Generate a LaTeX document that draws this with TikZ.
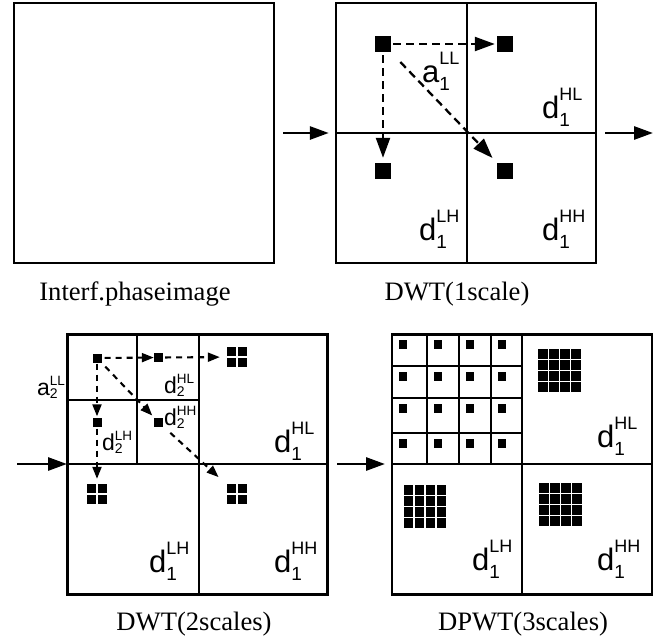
\documentclass[tikz,border=0pt]{standalone}
\usepackage{fontspec}
\setmainfont{Liberation Serif}
\newfontfamily\labfont{Liberation Sans}
\usetikzlibrary{arrows.meta}
\newcommand{\biglab}[3]{{\labfont\fontsize{31}{31}\selectfont #1\makebox[0pt][l]{\raisebox{-8pt}{\fontsize{19}{19}\selectfont #2}}\raisebox{18pt}{\fontsize{18}{18}\selectfont #3}}}
\newcommand{\smlab}[3]{{\labfont\fontsize{23}{23}\selectfont #1\makebox[0pt][l]{\raisebox{-3pt}{\fontsize{14}{14}\selectfont #2}}\raisebox{10pt}{\fontsize{13.5}{13.5}\selectfont #3}}}
\tikzset{
  panel/.style={draw, line width=2.4pt, minimum width=260pt, minimum height=260pt, inner sep=0},
  sepline/.style={line width=2.4pt},
  blk/.style={fill=black, draw=none, inner sep=0, minimum size=16pt},
  sblk/.style={fill=black, draw=none, inner sep=0, minimum size=9pt},
  quadgrid/.style={inner sep=0, minimum size=20pt, path picture={
      \foreach \i in {0,1}{\foreach \j in {0,1}{
        \fill ([shift={(\i*11,\j*11)}]path picture bounding box.north west) rectangle ++(9,9);}}}},
  bigquad/.style={inner sep=0, minimum size=43pt, path picture={
      \foreach \i in {0,...,3}{\foreach \j in {0,...,3}{
        \fill ([shift={(\i*11.15,\j*11.15)}]path picture bounding box.north west) rectangle ++(9.5,9.5);}}}},
  flow/.style={line width=2.8pt, -{Triangle[length=19pt,width=13pt]}},
  dflow/.style={line width=2.3pt, dash pattern=on 8pt off 5pt, -{Triangle[length=20pt,width=14pt]}},
  sdflow/.style={line width=2.1pt, dash pattern=on 6pt off 5pt, -{Triangle[length=12pt,width=9pt]}},
  lab/.style={anchor=base west, inner sep=0},
  captxt/.style={anchor=base, inner sep=0, font=\fontsize{26.6}{26.6}\selectfont}
}
\begin{document}
\begin{tikzpicture}[x=1pt,y=-1pt]
\useasboundingbox (0,0) rectangle (664,643);
% panels
\node[panel] (p1) at (144,133) {};
\node[panel] (p2) at (466,133) {};
\node[panel] (p3) at (197.5,464.5) {};
\node[panel] (p4) at (522,464.5) {};
% panel 2 quadrants
\draw[sepline] (467,3) -- (467,263);
\draw[sepline] (336,133) -- (596,133);
% panel 3 lines
\draw[sepline] (199,334) -- (199,595);
\draw[sepline] (68,464) -- (327,464);
\draw[sepline] (137,334) -- (137,464);
\draw[sepline] (68,400) -- (199,400);
% panel 4 lines
\draw[sepline] (522,334) -- (522,595);
\draw[sepline] (392,464) -- (652,464);
\foreach \x in {427,459,491} \draw[sepline] (\x,334) -- (\x,464);
\foreach \y in {366,398,433} \draw[sepline] (392,\y) -- (522,\y);
\foreach \x in {392,427,459,491}{\foreach \y in {334,366,398,433}{
  \fill (\x+6.5,\y+6) rectangle ++(8.5,8.5);}}
\node[bigquad] (r_hl) at (559.5,370.5) {};
\node[bigquad] (r_lh) at (425,506.5) {};
\node[bigquad] (r_hh) at (560.5,504.5) {};
% main arrows
\coordinate (e2) at (653,133);
\coordinate (s3) at (17,464);
\coordinate (s4) at (337,464);
\draw[flow] ([xshift=8pt]p1.east) -- ([xshift=-6pt]p2.west);
\draw[flow] ([xshift=8pt]p2.east) -- (e2);
\draw[flow] (s3) -- (67,464);
\draw[flow] (s4) -- (385,464);
% panel 2 content
\node[blk] (a1) at (383,44) {};
\node[blk] (h1) at (505,44) {};
\node[blk] (v1) at (383,171) {};
\node[blk] (g1) at (505,171) {};
\draw[dflow, shorten <=2pt, shorten >=2pt] (a1) -- (h1);
\draw[dflow, shorten <=3pt, shorten >=5pt] (a1) -- (v1);
\draw[dflow, shorten <=25pt, shorten >=18pt] (a1.center) -- (g1.center);
\node[lab] at (422,82) {\biglab{a}{1}{LL}};
\node[lab] at (542,118) {\biglab{d}{1}{HL}};
\node[lab] at (419,240) {\biglab{d}{1}{LH}};
\node[lab] at (542,240) {\biglab{d}{1}{HH}};
% panel 3 content
\node[sblk] (b_a) at (97,358) {};
\node[sblk] (b_hl) at (158.5,357.5) {};
\node[sblk] (b_lh) at (97,422) {};
\node[sblk] (b_hh) at (158.5,422) {};
\node[quadgrid] (bg_hl) at (237,357) {};
\node[quadgrid] (bg_lh) at (97,494) {};
\node[quadgrid] (bg_hh) at (237,494) {};
\draw[sdflow, shorten <=3pt] (b_a) -- (b_hl);
\draw[sdflow, shorten <=2pt, shorten >=7pt] (b_hl) -- (bg_hl);
\draw[sdflow, shorten <=1pt, shorten >=1pt] (b_a) -- (b_lh);
\draw[sdflow, shorten <=2pt, shorten >=5pt] (b_lh) -- (bg_lh);
\draw[sdflow, shorten <=12pt, shorten >=9pt] (b_a.center) -- (b_hh.center);
\draw[sdflow, shorten <=16pt, shorten >=25pt] (b_hh.center) -- (bg_hh.center);
\node[lab] at (37,395) {\smlab{a}{2}{LL}};
\node[lab] at (164,393) {\smlab{d}{2}{HL}};
\node[lab] at (164,425) {\smlab{d}{2}{HH}};
\node[lab] at (102,450) {\smlab{d}{2}{LH}};
\node[lab] at (274,452) {\biglab{d}{1}{HL}};
\node[lab] at (149,572) {\biglab{d}{1}{LH}};
\node[lab] at (274,572) {\biglab{d}{1}{HH}};
% panel 4 labels
\node[lab] at (597,447) {\biglab{d}{1}{HL}};
\node[lab] at (472,570) {\biglab{d}{1}{LH}};
\node[lab] at (597,570) {\biglab{d}{1}{HH}};
% captions
\node[captxt] at (135,300) {Interf.phaseimage};
\node[captxt] at (457,300) {DWT(1scale)};
\node[captxt] at (194,630) {DWT(2scales)};
\node[captxt] at (523,630) {DPWT(3scales)};
\end{tikzpicture}
\end{document}
